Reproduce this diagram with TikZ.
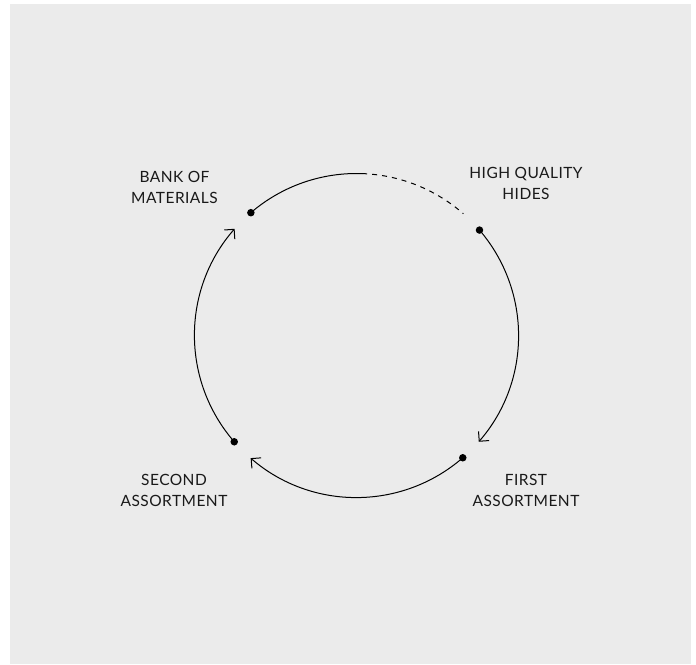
\documentclass[tikz,border=0pt]{standalone}
\usepackage{fontspec}
\setmainfont{Lato}
\newfontfamily\lblfont[LetterSpace=3]{Lato}
\usetikzlibrary{arrows.meta,calc}
\definecolor{bg}{RGB}{235,235,235}
\begin{document}
\begin{tikzpicture}[x=1pt,y=1pt,
  lbl/.style={align=center,inner sep=0pt,font=\lblfont\fontsize{15.5}{21}\selectfont,text=black!90},
  dotnode/.style={circle,fill=black,inner sep=0pt,minimum size=7.5pt},
  arcline/.style={line width=1pt},
  arrowarc/.style={arcline,-{Straight Barb[length=7pt,width=14pt,line width=1pt]}}]
\useasboundingbox (0,0) rectangle (696,664);
\fill[bg] (10,0) rectangle (691,660);
\coordinate (C) at (356.5,328.5);
\def\R{162}
\node[dotnode] (bank) at ($(C)+(130.7:\R)$) {};
\node[dotnode] (hides) at ($(C)+(40.6:\R)$) {};
\node[dotnode] (first) at ($(C)+(-49:\R)$) {};
\node[dotnode] (second) at ($(C)+(-139:\R)$) {};
% top: solid then dashed
\draw[arcline] (bank.center) arc[start angle=130.7,end angle=88,radius=\R] coordinate (topend);
\draw[arcline,dash pattern=on 5pt off 5pt] (topend) arc[start angle=88,end angle=48.7,radius=\R];
\draw[arrowarc] (hides.center) arc[start angle=40.6,end angle=-41,radius=\R];
\draw[arrowarc] (first.center) arc[start angle=-49,end angle=-130.8,radius=\R];
\draw[arrowarc] (second.center) arc[start angle=-139,end angle=-221.2,radius=\R];
\node[lbl] (lbank) at (174.5,477) {BANK OF\\MATERIALS};
\node[lbl] (lhides) at (526,480.5) {HIGH QUALITY\\HIDES};
\node[lbl] (lfirst) at (526,174) {FIRST\\ASSORTMENT};
\node[lbl] (lsecond) at (174,174) {SECOND\\ASSORTMENT};
\end{tikzpicture}
\end{document}
